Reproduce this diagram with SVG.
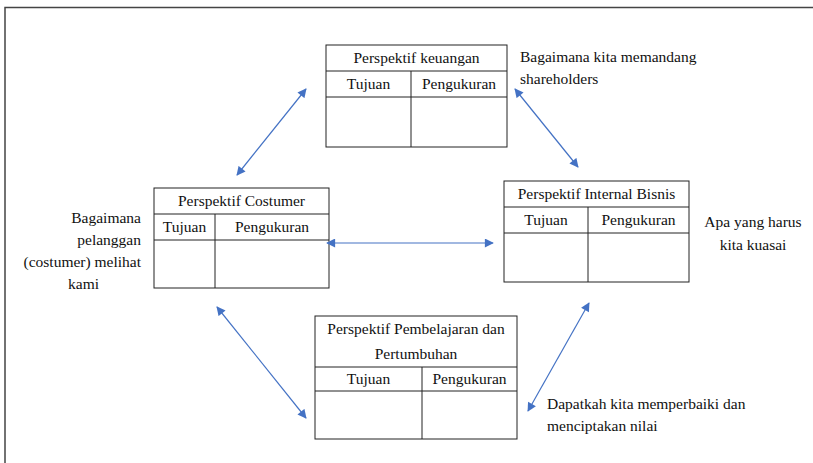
<svg xmlns="http://www.w3.org/2000/svg" width="813" height="463" viewBox="0 0 813 463">
<style>
text{font-family:'Liberation Serif','DejaVu Serif',serif;font-size:15.5px;fill:#111}
.c{text-anchor:middle}
.e{text-anchor:end}
.box{fill:#fff;stroke:#222;stroke-width:1}
.ln{stroke:#222;stroke-width:1}
.arr{stroke:#4472C4;stroke-width:1.2;fill:none;marker-start:url(#ah);marker-end:url(#ah)}
</style>
<defs>
<marker id="ah" viewBox="0 0 10 10" refX="9" refY="5" markerWidth="10" markerHeight="9" markerUnits="userSpaceOnUse" orient="auto-start-reverse">
<path d="M0,0 L10,5 L0,10 z" fill="#4472C4"/>
</marker>
</defs>
<rect width="813" height="463" fill="#fff"/>
<path d="M5,470 V7.5 H820" fill="none" stroke="#444" stroke-width="1.5"/>

<g id="keuangan" font-family="Liberation Serif, serif">
<rect class="box" x="326" y="45" width="181" height="102"/>
<line class="ln" x1="326" y1="71" x2="507" y2="71"/>
<line class="ln" x1="326" y1="97" x2="507" y2="97"/>
<line class="ln" x1="411" y1="71" x2="411" y2="147"/>
<text class="c" x="416.5" y="63">Perspektif keuangan</text>
<text class="c" x="368.5" y="89">Tujuan</text>
<text class="c" x="459" y="89">Pengukuran</text>
</g>

<g id="costumer" font-family="Liberation Serif, serif">
<rect class="box" x="154" y="188" width="175" height="100"/>
<line class="ln" x1="154" y1="214" x2="329" y2="214"/>
<line class="ln" x1="154" y1="240" x2="329" y2="240"/>
<line class="ln" x1="215" y1="214" x2="215" y2="288"/>
<text class="c" x="241.5" y="206">Perspektif Costumer</text>
<text class="c" x="184.5" y="232">Tujuan</text>
<text class="c" x="272" y="232">Pengukuran</text>
</g>

<g id="internal" font-family="Liberation Serif, serif">
<rect class="box" x="504" y="181" width="185" height="101"/>
<line class="ln" x1="504" y1="207" x2="689" y2="207"/>
<line class="ln" x1="504" y1="233" x2="689" y2="233"/>
<line class="ln" x1="588" y1="207" x2="588" y2="282"/>
<text class="c" x="596.5" y="199">Perspektif Internal Bisnis</text>
<text class="c" x="546" y="225">Tujuan</text>
<text class="c" x="638.5" y="225">Pengukuran</text>
</g>

<g id="pembelajaran" font-family="Liberation Serif, serif">
<rect class="box" x="315" y="316" width="202" height="123"/>
<line class="ln" x1="315" y1="367" x2="517" y2="367"/>
<line class="ln" x1="315" y1="391" x2="517" y2="391"/>
<line class="ln" x1="422" y1="367" x2="422" y2="439"/>
<text class="c" x="416" y="334">Perspektif Pembelajaran dan</text>
<text class="c" x="416" y="359">Pertumbuhan</text>
<text class="c" x="368.5" y="384">Tujuan</text>
<text class="c" x="469.5" y="384">Pengukuran</text>
</g>

<g id="connectors">
<line class="arr" x1="306" y1="89" x2="237" y2="175"/>
<line class="arr" x1="515" y1="89" x2="578" y2="167"/>
<line class="arr" x1="327" y1="243" x2="493" y2="243"/>
<line class="arr" x1="217" y1="307" x2="306" y2="418"/>
<line class="arr" x1="589" y1="303" x2="528" y2="411"/>
</g>

<g id="labels" font-family="Liberation Serif, serif">
<text x="520" y="62">Bagaimana kita memandang</text>
<text x="520" y="84">shareholders</text>
<text class="c" x="753" y="227">Apa yang harus</text>
<text class="c" x="753" y="250">kita kuasai</text>
<text class="e" x="141" y="223">Bagaimana</text>
<text class="e" x="141" y="245">pelanggan</text>
<text class="e" x="141" y="267">(costumer) melihat</text>
<text x="68" y="289">kami</text>
<text x="547" y="409">Dapatkah kita memperbaiki dan</text>
<text x="547" y="431">menciptakan nilai</text>
</g>
</svg>
